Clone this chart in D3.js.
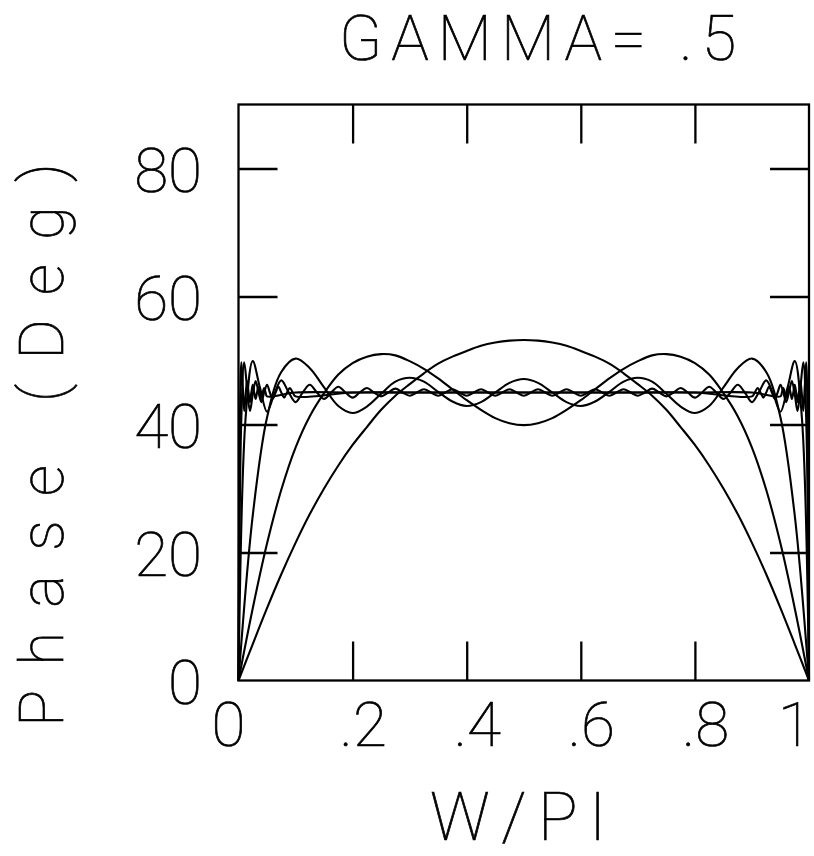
<!DOCTYPE html>
<html>
<head>
<meta charset="utf-8">
<script src="https://cdn.jsdelivr.net/npm/d3@7"></script>
<style>
  body { margin: 0; background: #fff; }
  text { font-family: Roboto, "DejaVu Sans", sans-serif; font-weight: 100; fill: #000; stroke: #000; stroke-width: 0.7; }
</style>
</head>
<body>
<svg></svg>
<script>
// W/PI sample grids
const wpi = [0, 0.025, 0.05, 0.075, 0.1, 0.125, 0.15, 0.175, 0.2, 0.225, 0.25, 0.275, 0.3, 0.325, 0.35, 0.375, 0.4, 0.425, 0.45, 0.475,
  0.5, 0.525, 0.55, 0.575, 0.6, 0.625, 0.65, 0.675, 0.7, 0.725, 0.75, 0.775, 0.8, 0.825, 0.85, 0.875, 0.9, 0.925, 0.95, 0.975, 1];

const wpiFine = [0, 0.0125, 0.025, 0.0375, 0.05, 0.0625, 0.075, 0.0875, 0.1, 0.1125, 0.125, 0.1375, 0.15, 0.1625, 0.175, 0.1875,
  0.2, 0.2125, 0.225, 0.2375, 0.25, 0.2625, 0.275, 0.2875, 0.3, 0.3125, 0.325, 0.3375, 0.35, 0.3625, 0.375, 0.3875,
  0.4, 0.4125, 0.425, 0.4375, 0.45, 0.4625, 0.475, 0.4875, 0.5, 0.5125, 0.525, 0.5375, 0.55, 0.5625, 0.575, 0.5875,
  0.6, 0.6125, 0.625, 0.6375, 0.65, 0.6625, 0.675, 0.6875, 0.7, 0.7125, 0.725, 0.7375, 0.75, 0.7625, 0.775, 0.7875,
  0.8, 0.8125, 0.825, 0.8375, 0.85, 0.8625, 0.875, 0.8875, 0.9, 0.9125, 0.925, 0.9375, 0.95, 0.9625, 0.975, 0.9875, 1];

const wpiMid = [0, 0.005, 0.01, 0.015, 0.02, 0.025, 0.03, 0.035, 0.04, 0.045, 0.05, 0.055, 0.06, 0.065, 0.07, 0.075,
  0.08, 0.085, 0.09, 0.095, 0.1, 0.2, 0.3, 0.4, 0.5, 0.6, 0.7, 0.8,
  0.9, 0.905, 0.91, 0.915, 0.92, 0.925, 0.93, 0.935, 0.94, 0.945, 0.95, 0.955, 0.96, 0.965, 0.97, 0.975,
  0.98, 0.985, 0.99, 0.995, 1];

const wpiEdge = [0, 0.0025, 0.005, 0.0075, 0.01, 0.0125, 0.015, 0.0175, 0.02, 0.0225, 0.025, 0.0275, 0.03, 0.0325, 0.035, 0.0375,
  0.04, 0.0425, 0.045, 0.0475, 0.05, 0.1, 0.2, 0.3, 0.4, 0.5, 0.6, 0.7, 0.8, 0.9,
  0.95, 0.9525, 0.955, 0.9575, 0.96, 0.9625, 0.965, 0.9675, 0.97, 0.9725, 0.975, 0.9775, 0.98, 0.9825, 0.985, 0.9875,
  0.99, 0.9925, 0.995, 0.9975, 1];

// phase (deg) for each truncation
const phase1 = [0, 5.7, 11.3, 16.6, 21.5, 26.0, 30.0, 33.6, 36.8, 39.6, 42.3, 44.5, 46.3, 48.0, 49.5, 50.6, 51.5, 52.3, 52.8, 53.1,
  53.2, 53.1, 52.8, 52.3, 51.5, 50.6, 49.5, 48.0, 46.3, 44.5, 42.3, 39.6, 36.8, 33.6, 30.0, 26.0, 21.5, 16.6, 11.3, 5.7, 0];

const phase2 = [0, 11.3, 21.4, 29.8, 36.4, 41.3, 44.9, 47.8, 49.6, 50.6, 51.0, 50.8, 49.9, 48.7, 47.2, 45.5, 43.8, 42.3, 41.0, 40.2,
  39.9, 40.2, 41.0, 42.3, 43.8, 45.5, 47.2, 48.7, 49.9, 50.8, 51.0, 50.6, 49.6, 47.8, 44.9, 41.3, 36.4, 29.8, 21.4, 11.3, 0];

const phase5 = [0, 25.8, 41.1, 48.2, 50.3, 48.8, 45.8, 42.9, 41.8, 42.8, 44.8, 46.7, 47.3, 46.7, 45.1, 43.6, 42.9, 43.5, 45.0, 46.5,
  47.1, 46.5, 45.0, 43.5, 42.9, 43.6, 45.1, 46.7, 47.3, 46.7, 44.8, 42.8, 41.8, 42.9, 45.8, 48.8, 50.3, 48.2, 41.1, 25.8, 0];

const phase20 = [0, 41.1, 49.9, 45.8, 42.0, 44.7, 46.9, 45.1, 43.5, 45.0, 46.2, 45.0, 44.0, 45.0, 45.9, 45.0,
  44.2, 45.0, 45.7, 45.0, 44.4, 45.0, 45.6, 45.0, 44.5, 45.0, 45.5, 45.0, 44.5, 45.0, 45.5, 45.0,
  44.5, 45.0, 45.5, 45.0, 44.5, 45.0, 45.5, 45.0, 44.5, 45.0, 45.5, 45.0, 44.5, 45.0, 45.5, 45.0,
  44.5, 45.0, 45.5, 45.0, 44.5, 45.0, 45.5, 45.0, 44.5, 45.0, 45.6, 45.0, 44.4, 45.0, 45.7, 45.0,
  44.2, 45.0, 45.9, 45.0, 44.0, 45.0, 46.2, 45.0, 43.5, 45.1, 46.9, 44.7, 42.0, 45.8, 49.9, 41.1, 0];

const phase50 = [0, 41.1, 49.7, 45.8, 42.1, 44.7, 46.8, 45.1, 43.5, 45.0, 46.2, 45.0, 44.0, 45.0, 45.9, 45.0,
  44.2, 45.0, 45.7, 45.0, 44.4, 45.0, 45.0, 45.0, 45.0, 45.0, 45.0, 45.0,
  44.4, 45.0, 45.7, 45.0, 44.2, 45.0, 45.9, 45.0, 44.0, 45.0, 46.2, 45.0, 43.5, 45.1, 46.8, 44.7,
  42.1, 45.8, 49.7, 41.1, 0];

const phase100 = [0, 41.1, 49.7, 45.8, 42.1, 44.7, 46.8, 45.1, 43.5, 45.0, 46.2, 45.0, 44.0, 45.0, 45.9, 45.0,
  44.2, 45.0, 45.7, 45.0, 44.4, 45.0, 45.0, 45.0, 45.0, 45.0, 45.0, 45.0, 45.0, 45.0,
  44.4, 45.0, 45.7, 45.0, 44.2, 45.0, 45.9, 45.0, 44.0, 45.0, 46.2, 45.0, 43.5, 45.1, 46.8, 44.7,
  42.1, 45.8, 49.7, 41.1, 0];

const series = [
  { wpi: wpi, phase: phase1 },
  { wpi: wpi, phase: phase2 },
  { wpi: wpi, phase: phase5 },
  { wpi: wpiFine, phase: phase20 },
  { wpi: wpiMid, phase: phase50 },
  { wpi: wpiEdge, phase: phase100 }
];

const xTicks = [0, 0.2, 0.4, 0.6, 0.8, 1];
const xTickLabels = ["0", ".2", ".4", ".6", ".8", "1"];
const yTicks = [0, 20, 40, 60, 80];
const yTickLabels = ["0", "20", "40", "60", "80"];

const width = 814;
const height = 856;

const svg = d3.select('svg')
  .attr('width', width)
  .attr('height', height);

const x = d3.scaleLinear().domain([0, 1]).range([238.5, 809]);
const y = d3.scaleLinear().domain([0, 90]).range([680.5, 104.5]);

// inward ticks on all four sides
const tickLen = -39;
svg.append('g').attr('transform', `translate(0,${y(0)})`)
  .call(d3.axisBottom(x).tickValues(xTicks.slice(1, -1)).tickSize(tickLen).tickFormat(''));
svg.append('g').attr('transform', `translate(0,${y(90)})`)
  .call(d3.axisTop(x).tickValues(xTicks.slice(1, -1)).tickSize(tickLen).tickFormat(''));
svg.append('g').attr('transform', `translate(${x(0)},0)`)
  .call(d3.axisLeft(y).tickValues(yTicks.slice(1)).tickSize(tickLen).tickFormat(''));
svg.append('g').attr('transform', `translate(${x(1)},0)`)
  .call(d3.axisRight(y).tickValues(yTicks.slice(1)).tickSize(tickLen).tickFormat(''));
svg.selectAll('.domain').remove();
svg.selectAll('.tick line').attr('stroke', '#000').attr('stroke-width', 2.3);

// frame
svg.append('rect')
  .attr('x', x(0)).attr('y', y(90))
  .attr('width', x(1) - x(0)).attr('height', y(0) - y(90))
  .attr('fill', 'none').attr('stroke', '#000').attr('stroke-width', 2.3);

// curves
const line = d3.line()
  .x((d) => x(d[0]))
  .y((d) => y(d[1]))
  .curve(d3.curveCatmullRom.alpha(0.5));

svg.append('g').selectAll('path')
  .data(series)
  .join('path')
  .attr('d', (s) => line(s.wpi.map((w, i) => [w, s.phase[i]])))
  .attr('fill', 'none')
  .attr('stroke', '#000')
  .attr('stroke-width', 2.1);

// x tick labels
svg.append('g').selectAll('text')
  .data(xTicks)
  .join('text')
  .attr('x', (d, i) => {
    if (xTickLabels[i].startsWith('.')) return x(d) - 13;
    return d === 1 ? x(d) + 3 : x(d) - 10;
  })
  .attr('y', y(0) + 65)
  .attr('text-anchor', (d, i) => xTickLabels[i].startsWith('.') ? 'start' : (d === 1 ? 'end' : 'middle'))
  .attr('font-size', 62)
  .text((d, i) => xTickLabels[i]);

// y tick labels
svg.append('g').selectAll('text')
  .data(yTicks)
  .join('text')
  .attr('x', 202)
  .attr('y', (d) => y(d) + 23)
  .attr('text-anchor', 'end')
  .attr('font-size', 62)
  .text((d, i) => yTickLabels[i]);

// title
svg.append('text')
  .attr('x', 339).attr('y', 60)
  .attr('font-size', 63)
  .attr('letter-spacing', 9)
  .text('GAMMA= .5');

// axis titles
svg.append('text')
  .attr('x', 430).attr('y', 840)
  .attr('font-size', 66)
  .attr('letter-spacing', 11.5)
  .text('W/PI');

svg.append('text')
  .attr('transform', 'translate(63,727) rotate(-90)')
  .attr('font-size', 62)
  .attr('letter-spacing', 24)
  .text('Phase (Deg)');
</script>
</body>
</html>
